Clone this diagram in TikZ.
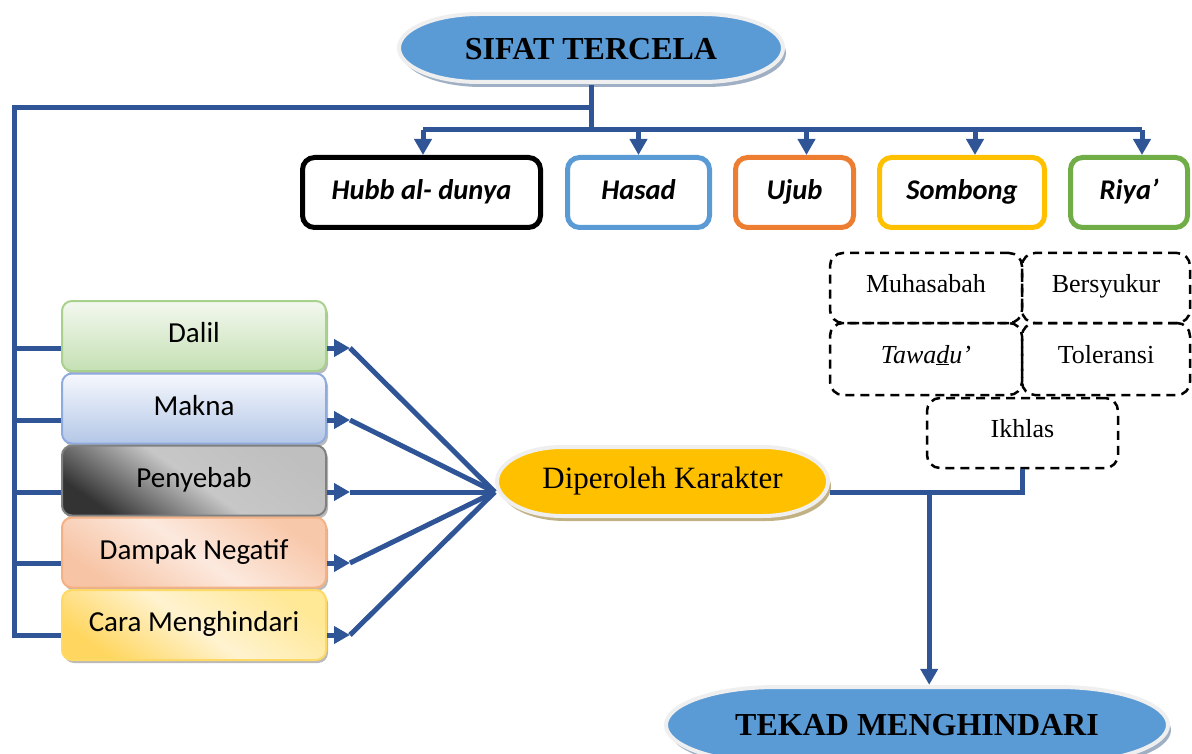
\documentclass[tikz,border=0pt]{standalone}
\usepackage{fontspec}
\setmainfont{Liberation Serif}
\newfontfamily\carlito{Carlito}
\usetikzlibrary{arrows.meta,shadows}
\definecolor{lineblue}{HTML}{2F5597}
\definecolor{pillblue}{HTML}{5B9BD5}
\definecolor{pillyellow}{HTML}{FFC000}
\definecolor{pillshadow}{HTML}{9FB0C4}
\definecolor{tanshadow}{HTML}{C2B283}
\definecolor{rim}{HTML}{EFEFEF}
\definecolor{hasadc}{HTML}{5B9BD5}
\definecolor{ujubc}{HTML}{ED7D31}
\definecolor{sombongc}{HTML}{FFC000}
\definecolor{riyac}{HTML}{70AD47}
\newcommand\pill[7]{%
 \fill[#7,xshift=3pt,yshift=-5pt] ({#1-#3+#5},{#2+#4}) -- ({#1+#3-#5},{#2+#4}) arc[start angle=90,end angle=-90,x radius=#5,y radius=#4] -- ({#1-#3+#5},{#2-#4}) arc[start angle=270,end angle=90,x radius=#5,y radius=#4] -- cycle;
 \filldraw[fill=#6,draw=rim,line width=4pt] ({#1-#3+#5},{#2+#4}) -- ({#1+#3-#5},{#2+#4}) arc[start angle=90,end angle=-90,x radius=#5,y radius=#4] -- ({#1-#3+#5},{#2-#4}) arc[start angle=270,end angle=90,x radius=#5,y radius=#4] -- cycle;
}
\tikzset{
 title/.style={font=\fontsize{32}{36}\selectfont\bfseries},
 sinbox/.style={draw, rounded corners=12pt, line width=5pt, minimum height=70pt,
   text height=20pt, text depth=5pt,
   font=\carlito\fontsize{28.5}{32}\selectfont\bfseries\itshape},
 topic/.style={draw, rounded corners=10pt, line width=2pt, minimum width=264pt, minimum height=70pt,
   text height=19pt, text depth=6pt, font=\carlito\fontsize{29}{33}\selectfont,
   drop shadow={shadow xshift=2pt,shadow yshift=-3pt,fill=black!45,opacity=0.6}},
 virtue/.style={draw, dash pattern=on 9pt off 6pt, line width=2.5pt, rounded corners=13pt,
   text height=17pt, text depth=9pt, font=\fontsize{26}{30}\selectfont},
 conn/.style={draw=lineblue, line width=5pt},
 arr/.style={conn, -{Triangle[length=16pt,width=17pt]}},
}
\begin{document}
\begin{tikzpicture}[x=1pt,y=1pt]
\useasboundingbox (0,0) rectangle (1192,-754);

% ---- pills
\pill{591}{-48}{192}{34}{80}{pillblue}{pillshadow}
\node[title, minimum width=388pt, minimum height=72pt] (sifat) at (591,-49) {SIFAT TERCELA};
\pill{662.5}{-481.5}{165.5}{34.5}{65}{pillyellow}{tanshadow}
\node[font=\fontsize{31}{36}\selectfont, minimum width=335pt, minimum height=73pt] (dip) at (662.5,-481.5) {Diperoleh Karakter};
\pill{917}{-725}{251}{38}{110}{pillblue}{pillshadow}
\node[title, minimum width=506pt, minimum height=80pt] (tekad) at (917,-725) {TEKAD MENGHINDARI};

% ---- top boxes
\node[sinbox, draw=black, minimum width=238pt] (hubb) at (421.5,-192.5) {Hubb al- dunya};
\node[sinbox, draw=hasadc, minimum width=142pt] (hasad) at (638.5,-192.5) {Hasad};
\node[sinbox, draw=ujubc, minimum width=118pt] (ujub) at (794.5,-192.5) {Ujub};
\node[sinbox, draw=sombongc, minimum width=165pt] (sombong) at (962,-192.5) {Sombong};
\node[sinbox, draw=riyac, minimum width=117pt] (riya) at (1129,-192.5) {Riya’};

% ---- dashed boxes
\node[virtue, minimum width=192pt, minimum height=70pt] (muh) at (926,-288) {Muhasabah};
\node[virtue, minimum width=168pt, minimum height=70pt] (ber) at (1106,-288) {Bersyukur};
\node[virtue, minimum width=192pt, minimum height=72pt] (taw) at (926,-359) {\textit{Tawa\underline{d}u’}};
\node[virtue, minimum width=168pt, minimum height=72pt] (tol) at (1106,-359) {Toleransi};
\node[virtue, minimum width=191pt, minimum height=70pt] (ikh) at (1022.5,-433) {Ikhlas};

% ---- left boxes
\node[topic, draw={rgb,255:red,169;green,209;blue,142}, top color={rgb,255:red,243;green,248;blue,239}, bottom color={rgb,255:red,197;green,224;blue,180}] (dalil) at (194,-336) {Dalil};
\node[topic, draw={rgb,255:red,143;green,170;blue,220}, top color={rgb,255:red,246;green,248;blue,253}, bottom color={rgb,255:red,180;green,199;blue,231}] (makna) at (194,-408.5) {Makna};
\node[topic, draw=black!50, top color=black!25, bottom color=black!80, middle color=black!22, shading angle=-35] (peny) at (194,-480.5) {Penyebab};
\node[topic, draw={rgb,255:red,244;green,177;blue,131}, top color={rgb,255:red,248;green,200;blue,170}, bottom color={rgb,255:red,247;green,196;blue,165}, middle color={rgb,255:red,252;green,233;blue,222}, shading angle=-35] (damp) at (194,-552.5) {Dampak Negatif};
\node[topic, draw={rgb,255:red,255;green,217;blue,102}, top color={rgb,255:red,255;green,232;blue,150}, bottom color={rgb,255:red,255;green,214;blue,95}, middle color={rgb,255:red,255;green,243;blue,208}, shading angle=-35] (cara) at (194,-625) {Cara Menghindari};

% ---- connectors top
\coordinate (j1) at (591,-108);
\coordinate (j2) at (591,-130);
\coordinate (lbar) at (14,-108);
\draw[conn] (sifat.south) -- (j2);
\draw[conn] ([xshift=1.5pt]j2 -| hubb.north) -- ([xshift=13pt]j2 -| riya.north);
\draw[arr] ([xshift=1.5pt]j2 -| hubb.north) -- ([xshift=1.5pt]hubb.north);
\draw[arr] (j2 -| hasad.north) -- (hasad.north);
\draw[arr] ([xshift=12pt]j2 -| ujub.north) -- ([xshift=12pt]ujub.north);
\draw[arr] ([xshift=13pt]j2 -| sombong.north) -- ([xshift=13pt]sombong.north);
\draw[arr] ([xshift=13pt]j2 -| riya.north) -- ([xshift=13pt]riya.north);

% ---- left bar
\coordinate (dalil-in) at ([yshift=-12pt]dalil.west);
\coordinate (makna-in) at ([yshift=-11.5pt]makna.west);
\coordinate (peny-in) at ([yshift=-11.5pt]peny.west);
\coordinate (damp-in) at ([yshift=-10.5pt]damp.west);
\coordinate (cara-in) at ([yshift=-10pt]cara.west);
\draw[conn] (j1) -- (lbar) -- (lbar |- cara-in) -- (cara-in);
\draw[conn] (lbar |- dalil-in) -- (dalil-in);
\draw[conn] (lbar |- makna-in) -- (makna-in);
\draw[conn] (lbar |- peny-in) -- (peny-in);
\draw[conn] (lbar |- damp-in) -- (damp-in);

% ---- to Diperoleh
\coordinate (conv) at ([yshift=-10.5pt]dip.west);
\draw[arr] ([yshift=-12pt]dalil.east) -- ++(23,0) coordinate (dalil-tip);
\draw[arr] ([yshift=-11.5pt]makna.east) -- ++(23,0) coordinate (makna-tip);
\draw[arr] ([yshift=-11.5pt]peny.east) -- ++(23,0) coordinate (peny-tip);
\draw[arr] ([yshift=-10.5pt]damp.east) -- ++(23,0) coordinate (damp-tip);
\draw[arr] ([yshift=-10pt]cara.east) -- ++(23,0) coordinate (cara-tip);
\draw[conn] (dalil-tip) -- (conv);
\draw[conn] (makna-tip) -- (conv);
\draw[conn] (peny-tip) -- (conv);
\draw[conn] (damp-tip) -- (conv);
\draw[conn] (cara-tip) -- (conv);

% ---- right side
\draw[conn] ([yshift=-10.5pt]dip.east) -| (ikh.south);
\path ([yshift=-10.5pt]dip.east) ++(99,0) coordinate (dv);
\draw[arr] (dv) -- (dv |- tekad.north);
\end{tikzpicture}
\end{document}
